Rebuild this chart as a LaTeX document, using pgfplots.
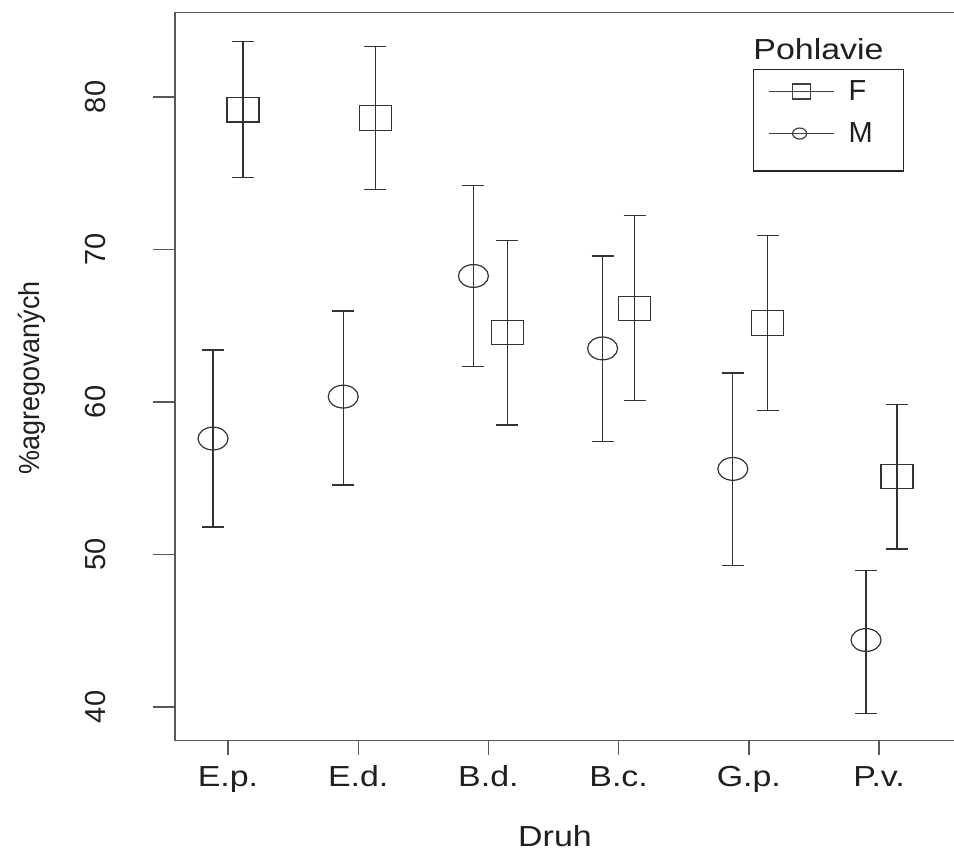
\documentclass[border=0pt]{standalone}
\usepackage{fontspec}
\setmainfont{Liberation Sans}
\usepackage{graphicx}
\usepackage{pgfplots}
\pgfplotsset{compat=1.18}
\usepackage{pgfplotstable}

\pgfplotstableread{
x      y      ep    em
0.115  79.15  4.48  4.44
1.130  78.62  4.70  4.67
2.146  64.56  6.02  6.07
3.123  66.13  6.07  6.04
4.146  65.18  5.73  5.72
5.138  55.10  4.75  4.74
}\dataF

\pgfplotstableread{
x      y      ep    em
-0.115 57.60  5.81  5.80
0.885  60.35  5.62  5.79
1.885  68.26  5.92  5.96
2.877  63.51  6.06  6.11
3.877  55.61  6.29  6.34
4.900  44.39  4.55  4.80
}\dataM

\newcommand{\fs}{\fontsize{14.5}{17}\selectfont}

\begin{document}
\begin{tikzpicture}
\begin{axis}[
  at={(87.5pt,56.65pt)}, anchor=south west,
  scale only axis, width=400pt, height=364.2pt,
  xmin=-0.407, xmax=5.737, ymin=37.79, ymax=85.55,
  xtick={0,1,2,3,4,5},
  xticklabels={E.p.,E.d.,B.d.,B.c.,G.p.,P.v.},
  ytick={40,50,60,70,80},
  xtick pos=left, ytick pos=left,
  tick align=outside,
  major tick length=11pt,
  xtick style={/pgfplots/major tick length=7pt},
  axis line style={black!65, line width=0.7pt},
  tick style={black!65, line width=0.7pt},
  every tick label/.append style={font=\fs, text=black!88},
  /pgf/number format/assume math mode=true,
  xticklabel style={anchor=base, inner sep=0pt, yshift=-12pt, xscale=1.17},
  yticklabel style={anchor=south, inner sep=0pt, xshift=-23.5pt, rotate=90},
  xlabel={Druh},
  xlabel style={at={(axis description cs:0.475,-0.1308)}, anchor=center, font=\fs, text=black!88, xscale=1.17},
  ylabel={\scalebox{0.93}[1]{\%agregovaných}},
  ylabel style={at={(axis description cs:-0.179,0.498)}, anchor=center, font=\fs, text=black!88},
  clip=false,
  legend style={at={(axis cs:4.032,81.836)}, anchor=north west,
    draw=black!85, line width=0.6pt, inner xsep=0pt, inner ysep=0.5pt,
    row sep=0pt, column sep=0pt, nodes={inner sep=0pt, anchor=center},
    font=\fs, text=black!88},
]
\addplot[forget plot, only marks, mark=square, black!80, line width=0.6pt,
  mark size=8pt, mark options={yscale=0.76, solid},
  error bars/.cd, y dir=both, y explicit,
  error bar style={line width=0.6pt, black!80},
  error mark options={rotate=90, mark size=5.5pt, line width=0.6pt, black!80}]
  table[x=x, y=y, y error plus=ep, y error minus=em] {\dataF};
\addplot[forget plot, only marks, mark=o, black!80, line width=0.6pt,
  mark size=7.5pt, mark options={yscale=0.76, solid},
  error bars/.cd, y dir=both, y explicit,
  error bar style={line width=0.6pt, black!80},
  error mark options={rotate=90, mark size=5.5pt, line width=0.6pt, black!80}]
  table[x=x, y=y, y error plus=ep, y error minus=em] {\dataM};

\addlegendimage{legend image code/.code={
  \path[draw=none, fill=none] (0pt,-10.5pt) rectangle (47.5pt,10.5pt);
  \draw[line width=0.6pt, black!75] (7.5pt,0pt) -- (40pt,0pt);
  \draw[line width=0.6pt, black!75] (19.5pt,-3.75pt) rectangle (28.5pt,3.75pt);}}
\addlegendentry{\makebox[27.5pt][l]{F}}
\addlegendimage{legend image code/.code={
  \path[draw=none, fill=none] (0pt,-10.5pt) rectangle (47.5pt,10.5pt);
  \draw[line width=0.6pt, black!75] (7.5pt,0pt) -- (40pt,0pt);
  \draw[line width=0.6pt, black!75] (23pt,0pt) ellipse [x radius=3.5pt, y radius=2.75pt];}}
\addlegendentry{\makebox[27.5pt][l]{M}}
\addlegendimage{legend image code/.code={\path[draw=none, fill=none] (0pt,0pt) rectangle (1pt,7pt);}}
\addlegendentry{}

\node[anchor=base west, inner sep=0pt, xscale=1.17, font=\fs, text=black!88]
  at (axis cs:4.032,82.43) {Pohlavie};
\end{axis}
\pgfresetboundingbox
\useasboundingbox (0,0) rectangle (477pt,427pt);
\end{tikzpicture}
\end{document}
